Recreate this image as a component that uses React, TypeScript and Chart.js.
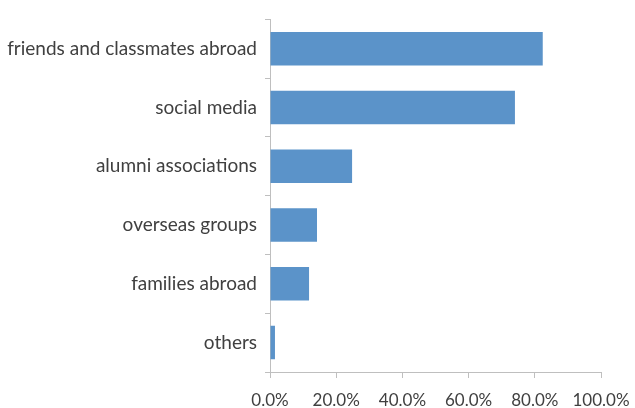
import React, { useEffect, useRef } from "react";
import { Chart, registerables } from "chart.js";

Chart.register(...registerables);

const categories = [
  "friends and classmates abroad",
  "social media",
  "alumni associations",
  "overseas groups",
  "families abroad",
  "others",
];
const values = [82.4, 74.0, 24.8, 14.2, 11.8, 1.5];
const xTicks = [0, 20, 40, 60, 80, 100];

export default function App() {
  const ref = useRef<HTMLCanvasElement | null>(null);
  useEffect(() => {
    document.body.style.margin = "0";
    const ctx = ref.current!;
    const axisColor = "#BFBFBF";
    const textColor = "#404040";
    const chart = new Chart(ctx, {
      type: "bar",
      data: {
        labels: categories,
        datasets: [
          {
            data: values,
            backgroundColor: "#5B93C9",
            borderWidth: 0,
            barPercentage: 0.57,
            categoryPercentage: 1,
          },
        ],
      },
      options: {
        indexAxis: "y",
        animation: false,
        responsive: false,
        maintainAspectRatio: false,
        layout: { padding: { top: 13, right: 34, left: 0, bottom: 0 } },
        plugins: { legend: { display: false }, tooltip: { enabled: false } },
        scales: {
          x: {
            min: 0,
            max: 100,
            afterBuildTicks: (s: any) => {
              s.ticks = xTicks.map((v) => ({ value: v }));
            },
            afterFit: (s: any) => {
              s.height = 36;
              s.paddingLeft = 0;
              s.paddingRight = 0;
            },
            ticks: {
              callback: (v: any) => Number(v).toFixed(1) + "%",
              color: textColor,
              font: { family: "Lato, sans-serif", size: 17 },
              padding: 12,
              maxRotation: 0,
            },
            grid: {
              drawOnChartArea: false,
              drawTicks: true,
              tickLength: 6,
              color: axisColor,
            },
            border: { display: true, color: axisColor, width: 1 },
          },
          y: {
            afterFit: (s: any) => {
              s.width = 270;
            },
            ticks: { color: textColor, font: { family: "Lato, sans-serif", size: 19 }, padding: 8 },
            grid: {
              offset: true,
              drawOnChartArea: false,
              drawTicks: true,
              tickLength: 5,
              color: axisColor,
            },
            border: { display: true, color: axisColor, width: 1 },
          },
        },
      },
    });
    return () => chart.destroy();
  }, []);
  return (
    <div style={{ width: 635, height: 408, background: "#fff" }}>
      <canvas ref={ref} width={635} height={408} style={{ display: "block" }} />
    </div>
  );
}
